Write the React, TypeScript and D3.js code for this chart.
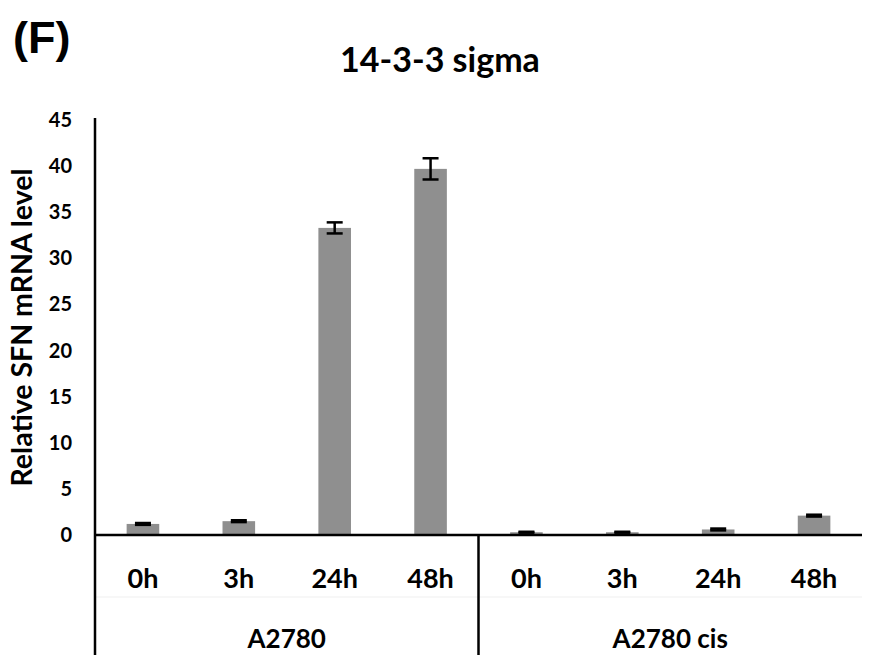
import React, { useEffect, useRef } from 'react';
import * as d3 from 'd3';

const groups = ["A2780", "A2780 cis"];
const times = ["0h", "3h", "24h", "48h"];
const means = [1.2, 1.5, 33.3, 39.7, 0.3, 0.3, 0.6, 2.1];
const errors = [0.1, 0.1, 0.6, 1.15, 0.05, 0.05, 0.1, 0.1];
const yTicks = [0, 5, 10, 15, 20, 25, 30, 35, 40, 45];

const font = "Lato, 'Open Sans', Arial, sans-serif";

const App = () => {
  const svgRef = useRef<SVGSVGElement>(null);

  useEffect(() => {
    if (!svgRef.current) return;
    const svg = d3.select(svgRef.current);
    svg.selectAll("*").remove();

    const width = 874;
    const height = 655;
    const left = 95, right = 862, top = 120, bottom = 535;

    const keys = means.map((_, i) => `${groups[Math.floor(i / times.length)]}|${times[i % times.length]}`);

    const x = d3.scaleBand().domain(keys).range([left, right]).paddingInner(0.66).paddingOuter(0.33);
    const xSlot = d3.scaleBand().domain(keys).range([left, right]);
    const y = d3.scaleLinear().domain([0, 45]).range([bottom, top]);

    svg.append("rect").attr("width", width).attr("height", height).attr("fill", "#fff");

    svg.append("text")
      .attr("x", 13).attr("y", 53)
      .attr("font-family", "'Liberation Sans', Arial, sans-serif").attr("font-size", "45px").attr("font-weight", "bold")
      .text("(F)");

    svg.append("text")
      .attr("x", 440).attr("y", 72)
      .attr("text-anchor", "middle")
      .attr("font-family", font).attr("font-size", "34px").attr("font-weight", "bold")
      .text("14-3-3 sigma");

    // bars
    svg.selectAll(".bar")
      .data(means)
      .enter()
      .append("rect")
      .attr("x", (_, i) => x(keys[i])!)
      .attr("y", d => y(d))
      .attr("width", x.bandwidth())
      .attr("height", d => bottom - y(d))
      .attr("fill", "#8f8f8f");

    // error bars
    const cap = 8;
    means.forEach((m, i) => {
      const cx = x(keys[i])! + x.bandwidth() / 2;
      const e = errors[i];
      const g = svg.append("g").attr("stroke", "#000").attr("stroke-width", 2.5);
      g.append("line").attr("x1", cx).attr("x2", cx).attr("y1", y(m + e)).attr("y2", y(m - e));
      g.append("line").attr("x1", cx - cap).attr("x2", cx + cap).attr("y1", y(m + e)).attr("y2", y(m + e));
      g.append("line").attr("x1", cx - cap).attr("x2", cx + cap).attr("y1", y(m - e)).attr("y2", y(m - e));
    });

    // faint divider between the two label rows
    svg.append("line")
      .attr("x1", left).attr("x2", right).attr("y1", 597).attr("y2", 597)
      .attr("stroke", "#efefef").attr("stroke-width", 1);

    // y axis
    svg.append("line")
      .attr("x1", left).attr("x2", left).attr("y1", top - 2).attr("y2", height)
      .attr("stroke", "#000").attr("stroke-width", 2.5);

    svg.selectAll(".ytick")
      .data(yTicks)
      .enter()
      .append("text")
      .attr("x", 72).attr("y", d => y(d) + 7)
      .attr("text-anchor", "end")
      .attr("font-family", font).attr("font-size", "20px").attr("font-weight", "bold")
      .text(d => d);

    svg.append("text")
      .attr("transform", `translate(32, ${(top + bottom) / 2}) rotate(-90)`)
      .attr("text-anchor", "middle")
      .attr("font-family", font).attr("font-size", "28.5px").attr("font-weight", "bold")
      .text("Relative SFN mRNA level");

    // x axis
    svg.append("line")
      .attr("x1", left).attr("x2", right).attr("y1", bottom).attr("y2", bottom)
      .attr("stroke", "#000").attr("stroke-width", 2.5);

    svg.selectAll(".xtick")
      .data(keys)
      .enter()
      .append("text")
      .attr("x", d => xSlot(d)! + xSlot.bandwidth() / 2)
      .attr("y", 588)
      .attr("text-anchor", "middle")
      .attr("font-family", font).attr("font-size", "27px").attr("font-weight", "bold")
      .text(d => d.split("|")[1]);

    // group separators and labels
    groups.forEach((g, gi) => {
      const first = xSlot(`${g}|${times[0]}`)!;
      const last = xSlot(`${g}|${times[times.length - 1]}`)! + xSlot.bandwidth();
      if (gi > 0) {
        svg.append("line")
          .attr("x1", first).attr("x2", first).attr("y1", bottom).attr("y2", height)
          .attr("stroke", "#000").attr("stroke-width", 2.5);
      }
      svg.append("text")
        .attr("x", (first + last) / 2)
        .attr("y", 648)
        .attr("text-anchor", "middle")
        .attr("font-family", font).attr("font-size", "26px").attr("font-weight", "bold")
        .text(g);
    });
  }, []);

  return (
    <svg ref={svgRef} width={874} height={655}
      style={{ position: "absolute", left: 0, top: 0, display: "block" }} />
  );
};

export default App;
